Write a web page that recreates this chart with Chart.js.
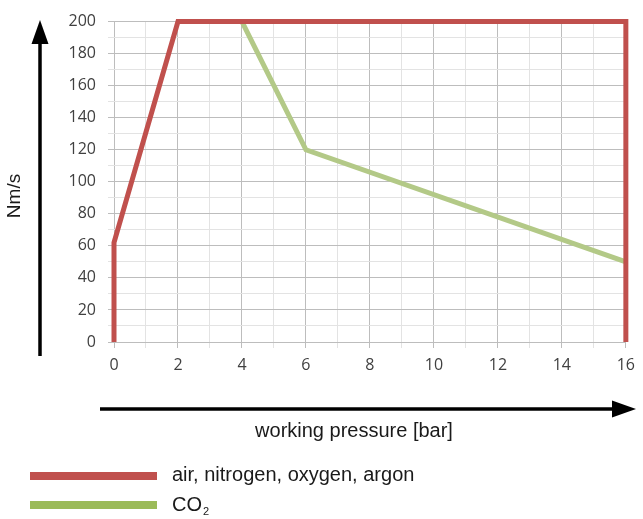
<!DOCTYPE html>
<html>
<head>
<meta charset="utf-8">
<script src="https://cdn.jsdelivr.net/npm/chart.js@4.4.0/dist/chart.umd.min.js"></script>
<style>
  html, body { margin: 0; padding: 0; background: #fff; }
  #wrap { width: 643px; height: 519px; position: relative; }
</style>
</head>
<body>
<div id="wrap"><canvas id="grafico"></canvas></div>
<script>
// datos
const PRESION_GAS = [0, 0, 2, 16, 16];
const CAUDAL_GAS = [0, 62, 200, 200, 0];
const PRESION_CO2 = [4, 6, 16];
const CAUDAL_CO2 = [200, 120, 50];
const TICKS_X = [0, 2, 4, 6, 8, 10, 12, 14, 16];
const TICKS_Y = [0, 20, 40, 60, 80, 100, 120, 140, 160, 180, 200];
const SERIES = ["air, nitrogen, oxygen, argon", "CO2"];

const ROJO = "#c0504d";
const VERDE = "#b3c987";
const VERDE_LEY = "#9bbb59";

function puntos(xs, ys) {
    return xs.map((x, i) => ({ x: x, y: ys[i] }));
}

function flecha(ctx, x1, y1, x2, y2) {
    let ang = Math.atan2(y2 - y1, x2 - x1);
    let largo = 24, ancho = 8.5;
    let bx = x2 - largo * Math.cos(ang), by = y2 - largo * Math.sin(ang);
    ctx.beginPath();
    ctx.moveTo(x1, y1);
    ctx.lineTo(bx, by);
    ctx.lineWidth = 3.5;
    ctx.strokeStyle = "#000";
    ctx.stroke();
    ctx.beginPath();
    ctx.moveTo(x2, y2);
    ctx.lineTo(bx - ancho * Math.sin(ang), by + ancho * Math.cos(ang));
    ctx.lineTo(bx + ancho * Math.sin(ang), by - ancho * Math.cos(ang));
    ctx.closePath();
    ctx.fillStyle = "#000";
    ctx.fill();
}

// flechas, titulos de ejes y leyenda
const extras = {
    id: "extras",
    afterDraw(chart) {
        const ctx = chart.ctx;
        ctx.save();
        flecha(ctx, 40, 356, 40, 20);
        flecha(ctx, 100, 409, 636, 409);

        ctx.fillStyle = "#1a1a1a";
        ctx.font = "20px 'Liberation Sans', Arial, sans-serif";
        ctx.textAlign = "center";
        ctx.textBaseline = "middle";
        ctx.fillText("working pressure [bar]", 354, 431);

        ctx.save();
        ctx.translate(15, 196);
        ctx.rotate(-Math.PI / 2);
        ctx.font = "19px 'Liberation Sans', Arial, sans-serif";
        ctx.fillText("Nm/s", 0, 0);
        ctx.restore();

        // leyenda
        ctx.fillStyle = ROJO;
        ctx.fillRect(30, 472, 127, 8);
        ctx.fillStyle = VERDE_LEY;
        ctx.fillRect(30, 501, 127, 8);

        ctx.fillStyle = "#1a1a1a";
        ctx.textAlign = "left";
        ctx.font = "20px 'Liberation Sans', Arial, sans-serif";
        ctx.fillText(SERIES[0], 172, 475);
        ctx.fillText("CO", 172, 505);
        let w = ctx.measureText("CO").width;
        ctx.font = "11px 'Liberation Sans', Arial, sans-serif";
        ctx.fillText("2", 172 + w + 1, 512);
        ctx.restore();
    }
};

const fuenteTicks = { family: "'Open Sans', sans-serif", size: 16 };

new Chart(document.getElementById("grafico"), {
    type: "scatter",
    data: {
        datasets: [{
                label: SERIES[0],
                data: puntos(PRESION_GAS, CAUDAL_GAS),
                showLine: true,
                borderColor: ROJO,
                backgroundColor: ROJO,
                borderWidth: 5,
                pointRadius: 0,
                clip: false
            },
            {
                label: SERIES[1],
                data: puntos(PRESION_CO2, CAUDAL_CO2),
                showLine: true,
                borderColor: VERDE,
                backgroundColor: VERDE,
                borderWidth: 5,
                pointRadius: 0,
                clip: false
            }
        ]
    },
    options: {
        responsive: true,
        maintainAspectRatio: false,
        animation: false,
        layout: { padding: { top: 20, right: 13, bottom: 132, left: 0 } },
        plugins: { legend: { display: false }, tooltip: { enabled: false } },
        scales: {
            x: {
                type: "linear",
                min: 0,
                max: 16,
                afterFit: (s) => { s.height = 45 },
                afterBuildTicks: (s) => { s.ticks = [...Array(17).keys()].map(v => ({ value: v })) },
                ticks: {
                    autoSkip: false,
                    color: "#404040",
                    font: fuenteTicks,
                    padding: 8,
                    callback: (v) => TICKS_X.includes(v) ? v : ""
                },
                grid: {
                    tickLength: 6,
                    color: (c) => (c.tick && c.tick.value % 2 === 0) ? "#bdbdbd" : "#e3e3e3"
                },
                border: { display: false }
            },
            y: {
                min: 0,
                max: 200,
                afterFit: (s) => { s.width = 114 },
                afterBuildTicks: (s) => { s.ticks = [...Array(21).keys()].map(v => ({ value: v * 10 })) },
                ticks: {
                    autoSkip: false,
                    color: "#404040",
                    font: fuenteTicks,
                    padding: 12,
                    callback: (v) => TICKS_Y.includes(v) ? v : ""
                },
                grid: {
                    tickLength: 6,
                    color: (c) => (c.tick && c.tick.value % 20 === 0) ? "#bdbdbd" : "#e3e3e3"
                },
                border: { display: false }
            }
        }
    },
    plugins: [extras]
});
</script>
</body>
</html>
